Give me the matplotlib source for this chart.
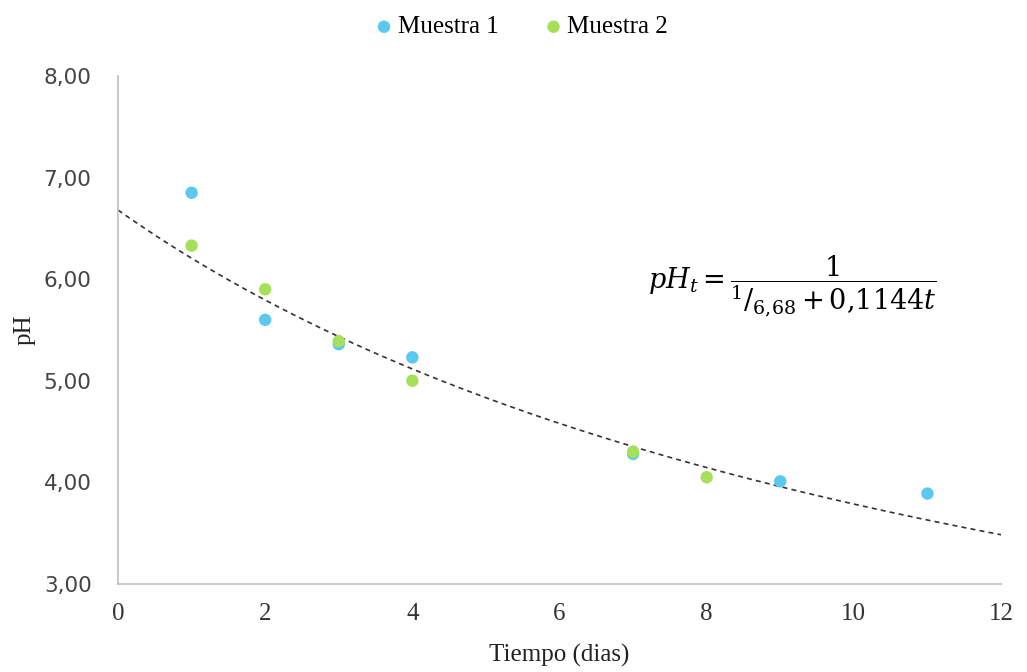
import numpy as np
import matplotlib
matplotlib.use("Agg")
import matplotlib.pyplot as plt
from matplotlib.ticker import FuncFormatter

# Data
t1 = [1, 2, 3, 4, 7, 9, 11]
ph1 = [6.85, 5.60, 5.36, 5.23, 4.28, 4.01, 3.89]
t2 = [1, 2, 3, 4, 7, 8]
ph2 = [6.33, 5.90, 5.39, 5.00, 4.30, 4.05]
series_labels = ["Muestra 1", "Muestra 2"]
xticks = [0, 2, 4, 6, 8, 10, 12]
yticks = [3, 4, 5, 6, 7, 8]
ph0 = 6.68
k = 0.01144

plt.rcParams['mathtext.fontset'] = 'dejavuserif'
fig = plt.figure(figsize=(10.27, 6.72), dpi=100)
ax = fig.add_axes([0.1149, 0.131, 0.8598, 0.756])

tt = np.linspace(0, 12, 200)
ax.plot(tt, 1 / (1 / ph0 + k * tt), ls=(0, (3, 2.5)), color='#333333', lw=1.2, zorder=2)
ax.scatter(t1, ph1, s=80, color='#5BC8F0', label=series_labels[0], zorder=3, edgecolors='none')
ax.scatter(t2, ph2, s=80, color='#A6E05A', label=series_labels[1], zorder=3, edgecolors='none')

ax.set_xlim(0, 12)
ax.set_ylim(3, 8)
ax.set_xticks(xticks)
ax.set_yticks(yticks)
ax.yaxis.set_major_formatter(FuncFormatter(lambda v, p: f"{v:.2f}".replace('.', ',')))
ax.tick_params(length=0)
for lab in ax.get_xticklabels():
    lab.set_fontfamily('Liberation Serif')
    lab.set_fontsize(18)
    lab.set_color('#333333')
for lab in ax.get_yticklabels():
    lab.set_fontfamily('DejaVu Sans')
    lab.set_fontsize(15.5)
    lab.set_color('#444444')
ax.tick_params(axis='x', pad=14)
ax.tick_params(axis='y', pad=19)

for s in ['top', 'right']:
    ax.spines[s].set_visible(False)
for s in ['left', 'bottom']:
    ax.spines[s].set_color('#BFBFBF')
    ax.spines[s].set_linewidth(1.2)

ax.set_xlabel("Tiempo (dias)", fontfamily='Liberation Serif', fontsize=18, color='#222222', labelpad=13)
ax.set_ylabel("pH", fontfamily='Liberation Serif', fontsize=18, color='#222222', labelpad=6)

ax.text(9.17, 5.93, r'$pH_t=\dfrac{1}{{}^{1}/_{6{,}68}+0{,}1144t}$', fontsize=19.5,
        ha='center', va='center', color='black')

leg = fig.legend(loc='upper center', bbox_to_anchor=(0.5, 1.01), ncol=2, frameon=False,
                 prop={'family': 'Liberation Serif', 'size': 18}, handletextpad=-0.45,
                 columnspacing=1.2, markerscale=1.0)

fig.savefig("out.png", dpi=100)
